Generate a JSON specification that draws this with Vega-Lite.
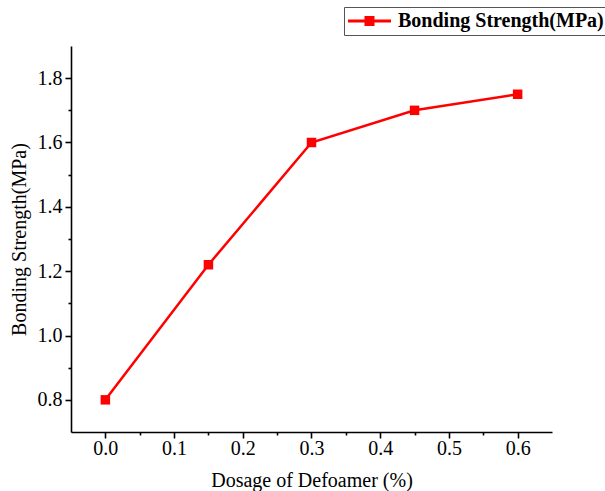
{
  "$schema": "https://vega.github.io/schema/vega-lite/v6.json",
  "width": 481,
  "height": 386,
  "autosize": {"type": "none"},
  "padding": {"left": 71, "top": 46, "right": 53, "bottom": 59},
  "background": "white",
  "config": {
    "font": "Liberation Serif",
    "view": {"stroke": null},
    "axis": {
      "grid": false,
      "domainColor": "black",
      "domainWidth": 1.6,
      "tickColor": "black",
      "tickWidth": 1.6,
      "labelFont": "Liberation Serif",
      "labelFontSize": 20,
      "labelColor": "black",
      "titleFont": "Liberation Serif",
      "titleFontSize": 20,
      "titleFontWeight": "normal",
      "titleColor": "black"
    }
  },
  "data": {
    "values": [
      {"dosage": 0.0, "strength": 0.8, "series": "Bonding Strength(MPa)"},
      {"dosage": 0.15, "strength": 1.22, "series": "Bonding Strength(MPa)"},
      {"dosage": 0.3, "strength": 1.6, "series": "Bonding Strength(MPa)"},
      {"dosage": 0.45, "strength": 1.7, "series": "Bonding Strength(MPa)"},
      {"dosage": 0.6, "strength": 1.75, "series": "Bonding Strength(MPa)"}
    ]
  },
  "layer": [
    {
      "mark": {"type": "line", "color": "#ff0000", "strokeWidth": 2.5},
      "encoding": {
        "x": {
          "field": "dosage", "type": "quantitative",
          "scale": {"domain": [-0.05, 0.65], "nice": false, "zero": false},
          "axis": {
            "orient": "bottom",
            "values": [0, 0.1, 0.2, 0.3, 0.4, 0.5, 0.6],
            "format": ".1f",
            "tickSize": 6,
            "labelPadding": 0,
            "title": "Dosage of Defoamer (%)",
            "titlePadding": 12
          }
        },
        "y": {
          "field": "strength", "type": "quantitative",
          "scale": {"domain": [0.7, 1.9], "nice": false, "zero": false},
          "axis": {
            "orient": "left",
            "values": [0.8, 1.0, 1.2, 1.4, 1.6, 1.8],
            "format": ".1f",
            "tickSize": 6,
            "labelPadding": 3,
            "title": "Bonding Strength(MPa)",
            "titlePadding": 8
          }
        }
      }
    },
    {
      "mark": {"type": "point", "shape": "square", "filled": true, "size": 90, "opacity": 1},
      "encoding": {
        "x": {
          "field": "dosage", "type": "quantitative",
          "axis": {
            "orient": "bottom",
            "values": [0.05, 0.15, 0.25, 0.35, 0.45, 0.55],
            "labels": false, "domain": false, "title": null, "tickSize": 3
          }
        },
        "y": {
          "field": "strength", "type": "quantitative",
          "axis": {
            "orient": "left",
            "values": [0.9, 1.1, 1.3, 1.5, 1.7],
            "labels": false, "domain": false, "title": null, "tickSize": 3
          }
        },
        "color": {
          "field": "series", "type": "nominal",
          "scale": {"range": ["#ff0000"]},
          "legend": {
            "title": null,
            "orient": "none",
            "legendX": 273,
            "legendY": -39,
            "strokeColor": "#555",
            "fillColor": "white",
            "padding": 4,
            "symbolType": "M-1,-0.15H3.3V0.15H-1Z M0.65,-0.5H1.65V0.5H0.65Z",
            "symbolSize": 400,
            "symbolStrokeWidth": 0,
            "symbolOpacity": 1,
            "labelFont": "Liberation Serif",
            "labelFontSize": 20,
            "labelFontWeight": "bold",
            "labelColor": "black",
            "labelOffset": 30,
            "labelLimit": 400
          }
        }
      }
    }
  ],
  "resolve": {"axis": {"x": "independent", "y": "independent"}}
}
